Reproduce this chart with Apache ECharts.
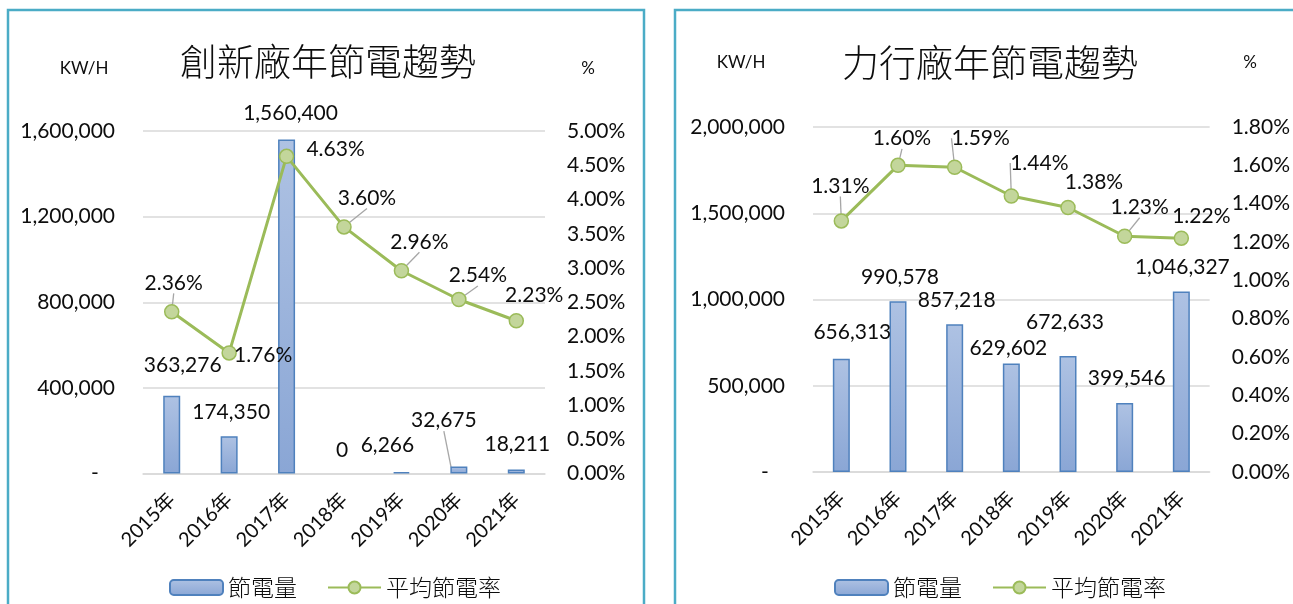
<!DOCTYPE html>
<html>
<head>
<meta charset="utf-8">
<script src="https://cdn.jsdelivr.net/npm/echarts@6/dist/echarts.min.js"></script>
<style>
  html, body { margin: 0; padding: 0; background: #fff; }
  #chart { width: 1293px; height: 604px; }
</style>
</head>
<body>
<div id="chart"></div>
<script>
// Years shared by both plants
const YEARS = ['2015年', '2016年', '2017年', '2018年', '2019年', '2020年', '2021年'];

// 創新廠: saved energy (KW/H) and average saving rate (%)
const A_SAVED = [363276, 174350, 1560400, 0, 6266, 32675, 18211];
const A_RATE = [2.36, 1.76, 4.63, 3.60, 2.96, 2.54, 2.23];

// 力行廠: saved energy (KW/H) and average saving rate (%)
const B_SAVED = [656313, 990578, 857218, 629602, 672633, 399546, 1046327];
const B_RATE = [1.31, 1.60, 1.59, 1.44, 1.38, 1.23, 1.22];

// Axis ranges
const A_KWH_MAX = 1600000, A_KWH_STEP = 400000;
const A_PCT_MAX = 5, A_PCT_STEP = 0.5;
const B_KWH_MAX = 2000000, B_KWH_STEP = 500000;
const B_PCT_MAX = 1.8, B_PCT_STEP = 0.2;

// Data-label nudges [dx, dy] and which labels get a leader line
const A_BAR_SHIFT = [[11, -31], [2, -24], [4, -26], [-2, -23], [-14, -27], [-15, -46], [1, -25]];
const A_BAR_LEADER = [0, 0, 0, 0, 0, 1, 0];
const A_RATE_SHIFT = [[2, -29], [34, 2], [49, -7], [23, -29], [18, -29], [19, -24], [18, -26]];
const A_RATE_LEADER = [1, 0, 0, 1, 1, 1, 0];
const B_BAR_SHIFT = [[11, -27], [2, -24], [2, -24], [-3, -15], [-3, -34], [2, -25], [1, -24]];
const B_BAR_LEADER = [0, 0, 0, 0, 0, 0, 0];
const B_RATE_SHIFT = [[-1, -35], [4, -27], [26, -29], [28, -33], [26, -25], [15, -29], [20, -22]];
const B_RATE_LEADER = [1, 1, 1, 1, 0, 1, 0];

const NUM_FONT = 'Lato, "Noto Sans CJK TC", sans-serif';
const CJK_FONT = '"Noto Sans CJK TC", "Noto Sans CJK SC", sans-serif';
const INK = '#0d0d0d';
const GRID_LINE = '#d9d9d9';
const BAR_BORDER = '#4f81bd';
const LINE_GREEN = '#9bbb59';
const DOT_FILL = '#c3d69b';
const FRAME = '#4bacc6';

const fmtKwh = v => v === 0 ? '-\u00a0\u00a0\u00a0' : v.toLocaleString('en-US');
const fmtPct = v => Number(v).toFixed(2) + '%';

const barFill = new echarts.graphic.LinearGradient(0, 0, 0, 1, [
  { offset: 0, color: '#aec2e3' },
  { offset: 1, color: '#8aa6d5' }
]);

// Series items: a zero value draws no outline, only its label
function barItems(values, leaders) {
  return values.map((v, i) => {
    const item = { value: v, labelLine: { show: !!leaders[i] } };
    if (v === 0) item.itemStyle = { borderWidth: 0 };
    return item;
  });
}

function lineItems(values, leaders) {
  return values.map((v, i) => ({ value: v, labelLine: { show: !!leaders[i] } }));
}

function barSeries(name, xi, yi, values, shift, leaders) {
  return {
    name, type: 'bar', xAxisIndex: xi, yAxisIndex: yi,
    barWidth: 17,
    data: barItems(values, leaders),
    itemStyle: { color: barFill, borderColor: BAR_BORDER, borderWidth: 1.5 },
    label: {
      show: true, position: 'top', distance: 0,
      align: 'center', verticalAlign: 'middle',
      fontFamily: NUM_FONT, fontSize: 21, color: INK,
      formatter: p => p.value.toLocaleString('en-US')
    },
    labelLine: { show: true, lineStyle: { color: '#a6a6a6', width: 1.3 } },
    labelLayout: p => ({ dx: shift[p.dataIndex][0], dy: shift[p.dataIndex][1] }),
    z: 2
  };
}

function lineSeries(name, xi, yi, values, shift, leaders) {
  return {
    name, type: 'line', xAxisIndex: xi, yAxisIndex: yi,
    data: lineItems(values, leaders),
    symbol: 'circle', symbolSize: 14,
    lineStyle: { color: LINE_GREEN, width: 3 },
    itemStyle: { color: DOT_FILL, borderColor: LINE_GREEN, borderWidth: 1.5 },
    label: {
      show: true, position: 'inside',
      align: 'center', verticalAlign: 'middle',
      fontFamily: NUM_FONT, fontSize: 21, color: INK,
      textBorderWidth: 0,
      formatter: p => fmtPct(p.value)
    },
    labelLine: { show: true, lineStyle: { color: '#a6a6a6', width: 1.3 } },
    labelLayout: p => ({ dx: shift[p.dataIndex][0], dy: shift[p.dataIndex][1] }),
    z: 3
  };
}

function catAxis(gi) {
  return {
    type: 'category', gridIndex: gi, data: YEARS,
    axisLine: { show: true, lineStyle: { color: GRID_LINE, width: 1.5 } },
    axisTick: { show: false },
    axisLabel: { rotate: 45, margin: 23, fontFamily: NUM_FONT, fontSize: 20, color: INK }
  };
}

function kwhAxis(gi, max, step) {
  return {
    type: 'value', gridIndex: gi, position: 'left', min: 0, max, interval: step,
    axisLine: { show: false }, axisTick: { show: false },
    splitLine: { lineStyle: { color: GRID_LINE, width: 1.5 } },
    axisLabel: { margin: 28, fontFamily: NUM_FONT, fontSize: 21, color: INK, formatter: fmtKwh }
  };
}

function pctAxis(gi, max, step) {
  return {
    type: 'value', gridIndex: gi, position: 'right', min: 0, max, interval: step,
    axisLine: { show: false }, axisTick: { show: false }, splitLine: { show: false },
    axisLabel: { margin: 22, fontFamily: NUM_FONT, fontSize: 21, color: INK, formatter: fmtPct }
  };
}

function legendAt(left) {
  return {
    left, top: 571, orient: 'horizontal',
    itemWidth: 53, itemHeight: 15, itemGap: 30,
    data: ['節電量', '平均節電率'],
    textStyle: { fontFamily: CJK_FONT, fontSize: 23, fontWeight: 300, color: INK }
  };
}

function text(x, y, str, size, font, weight) {
  return {
    type: 'text', x, y,
    style: {
      text: str, font: (weight || 'normal') + ' ' + size + 'px ' + font,
      fill: INK, textAlign: 'center', textVerticalAlign: 'middle'
    }
  };
}

const chart = echarts.init(document.getElementById('chart'), null, { renderer: 'canvas' });

chart.setOption({
  animation: false,
  backgroundColor: '#fff',
  grid: [
    { left: 143, right: 748, top: 131, bottom: 130.5 },
    { left: 813, right: 83, top: 127, bottom: 132 }
  ],
  xAxis: [catAxis(0), catAxis(1)],
  yAxis: [
    kwhAxis(0, A_KWH_MAX, A_KWH_STEP),
    pctAxis(0, A_PCT_MAX, A_PCT_STEP),
    kwhAxis(1, B_KWH_MAX, B_KWH_STEP),
    pctAxis(1, B_PCT_MAX, B_PCT_STEP)
  ],
  legend: [legendAt(164), legendAt(829)],
  series: [
    barSeries('節電量', 0, 0, A_SAVED, A_BAR_SHIFT, A_BAR_LEADER),
    lineSeries('平均節電率', 0, 1, A_RATE, A_RATE_SHIFT, A_RATE_LEADER),
    barSeries('節電量', 1, 2, B_SAVED, B_BAR_SHIFT, B_BAR_LEADER),
    lineSeries('平均節電率', 1, 3, B_RATE, B_RATE_SHIFT, B_RATE_LEADER)
  ],
  graphic: [
    { type: 'rect', shape: { x: 8, y: 10, width: 636, height: 640 }, style: { fill: 'none', stroke: FRAME, lineWidth: 2.5 }, silent: true },
    { type: 'rect', shape: { x: 675, y: 10, width: 660, height: 640 }, style: { fill: 'none', stroke: FRAME, lineWidth: 2.5 }, silent: true },
    text(328, 62, '創新廠年節電趨勢', 37, CJK_FONT, 300),
    text(84, 69, 'KW/H', 17, NUM_FONT),
    text(588, 69, '%', 17, NUM_FONT),
    text(990, 63, '力行廠年節電趨勢', 37, CJK_FONT, 300),
    text(741, 63, 'KW/H', 17, NUM_FONT),
    text(1250, 63, '%', 17, NUM_FONT)
  ]
});
</script>
</body>
</html>
